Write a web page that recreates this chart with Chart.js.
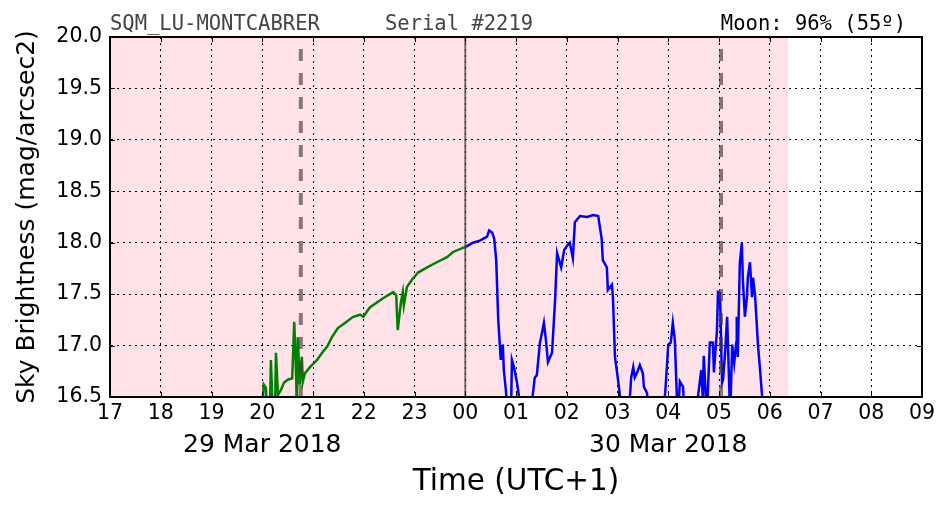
<!DOCTYPE html>
<html>
<head>
<meta charset="utf-8">
<title>SQM_LU-MONTCABRER</title>
<script src="https://cdn.jsdelivr.net/npm/chart.js@4.4.0/dist/chart.umd.min.js"></script>
<style>
    body { margin: 0; background: #fff; }
    #grafico { display: block; }
</style>
</head>
<body>
<canvas id="grafico" width="952" height="512"></canvas>
<script>
// Time in hours since 00:00 of 29 Mar 2018 (24 = midnight, 30 = 06:00 on 30 Mar)
const greenTimes = [19.99, 20.03, 20.07, 20.11, 20.15, 20.17, 20.21, 20.25, 20.27, 20.31, 20.37, 20.43,
    20.51, 20.59, 20.63, 20.67, 20.68, 20.70, 20.74, 20.78, 20.80, 20.84, 20.94, 21.08, 21.18, 21.28,
    21.37, 21.49, 21.63, 21.79, 21.93, 21.99, 22.12, 22.38, 22.58, 22.64, 22.67, 22.73, 22.77, 22.79,
    22.85, 22.95, 23.07, 23.25, 23.44, 23.64, 23.76, 24.00];
const greenValues = [16.3, 16.62, 16.59, 16.3, 16.3, 16.86, 16.3, 16.3, 16.93, 16.52, 16.57, 16.64,
    16.67, 16.68, 17.23, 16.67, 16.3, 17.08, 16.62, 16.89, 16.65, 16.73, 16.79, 16.86, 16.93, 16.99,
    17.08, 17.17, 17.22, 17.28, 17.30, 17.28, 17.37, 17.46, 17.52, 17.49, 17.15, 17.41, 17.52, 17.39,
    17.57, 17.64, 17.71, 17.76, 17.81, 17.86, 17.91, 17.96];

const blueTimes = [24.01, 24.15, 24.29, 24.43, 24.47, 24.53, 24.57, 24.61, 24.65, 24.70, 24.72, 24.74,
    24.76, 24.80, 24.84, 24.90, 24.92, 24.96, 25.02, 25.06, 25.10, 25.28, 25.33, 25.37, 25.41, 25.47,
    25.55, 25.59, 25.63, 25.71, 25.77, 25.81, 25.89, 25.95, 26.02, 26.06, 26.12, 26.16, 26.26, 26.40,
    26.52, 26.62, 26.69, 26.71, 26.79, 26.81, 26.89, 26.91, 26.95, 27.01, 27.05, 27.09, 27.21, 27.25,
    27.27, 27.31, 27.34, 27.38, 27.44, 27.50, 27.52, 27.58, 27.64, 27.88, 27.94, 28.00, 28.05, 28.09,
    28.13, 28.17, 28.19, 28.23, 28.29, 28.33, 28.57, 28.59, 28.65, 28.68, 28.70, 28.76, 28.82, 28.88,
    28.90, 28.96, 28.98, 29.02, 29.06, 29.08, 29.12, 29.16, 29.22, 29.26, 29.30, 29.34, 29.35, 29.37,
    29.41, 29.45, 29.47, 29.51, 29.55, 29.57, 29.61, 29.65, 29.67, 29.71, 29.77, 29.81, 29.85, 29.87];
const blueValues = [17.96, 18.00, 18.02, 18.06, 18.12, 18.10, 18.04, 17.83, 17.25, 16.86, 16.94, 17.01,
    16.76, 16.57, 16.3, 16.3, 16.86, 16.79, 16.64, 16.5, 16.3, 16.3, 16.52, 16.69, 16.71, 17.02,
    17.22, 17.05, 16.84, 16.93, 17.44, 17.90, 17.76, 17.93, 17.98, 18.00, 17.85, 18.20, 18.26, 18.25,
    18.27, 18.26, 18.03, 17.83, 17.76, 17.54, 17.59, 17.47, 16.89, 16.67, 16.5, 16.3, 16.3, 16.54,
    16.69, 16.79, 16.69, 16.73, 16.81, 16.73, 16.60, 16.54, 16.3, 16.3, 16.54, 17.01, 17.03, 17.22,
    17.05, 16.5, 16.3, 16.65, 16.60, 16.3, 16.3, 16.52, 16.76, 16.5, 16.90, 16.3, 17.03, 17.03,
    16.74, 17.15, 17.52, 17.51, 16.64, 16.67, 16.93, 17.28, 16.3, 17.01, 16.83, 17.03, 17.28, 16.89,
    17.80, 18.00, 17.64, 17.28, 17.47, 17.67, 17.81, 17.47, 17.66, 17.49, 16.99, 16.76, 16.5, 16.3];

// Axis limits and ticks
const xMin = 17, xMax = 33;
const yMin = 16.5, yMax = 20.0;
const yStep = 0.5;

// Shaded night period, sun set/rise markers, midnight
const nightStart = 17, nightEnd = 30.34;
const sunMarks = [20.76, 29.04];
const midnight = 24;

// Date labels under the hour ticks
const dateTicks = [20, 28];
const dateLabels = ['29 Mar 2018', '30 Mar 2018'];

const headerLeft = 'SQM_LU-MONTCABRER';
const headerMid = 'Serial #2219';
const headerRight = 'Moon: 96% (55º)';

function paresXY(xs, ys) {
    return xs.map(function(x, i) { return { x: x, y: ys[i] }; });
}

function linhaVertical(x) {
    return [{ x: x, y: yMin }, { x: x, y: yMax }];
}

// Fundo rosa da noite, atrás da grade
const pluginNoite = {
    id: 'noite',
    beforeDraw: function(chart) {
        const c = chart.ctx, a = chart.chartArea, sx = chart.scales.x;
        const x1 = sx.getPixelForValue(nightStart), x2 = sx.getPixelForValue(nightEnd);
        c.save();
        c.fillStyle = 'rgba(255, 192, 203, 0.45)';
        c.fillRect(x1, a.top, x2 - x1, a.bottom - a.top);
        c.strokeStyle = 'rgba(255, 170, 180, 0.6)';
        c.lineWidth = 1;
        c.beginPath();
        c.moveTo(x2, a.top);
        c.lineTo(x2, a.bottom);
        c.stroke();
        c.restore();
    }
};

// Moldura, marcas internas, cabeçalho e datas
const pluginTextos = {
    id: 'textos',
    afterDraw: function(chart) {
        const c = chart.ctx, a = chart.chartArea, sx = chart.scales.x, sy = chart.scales.y;
        c.save();
        c.strokeStyle = '#000';
        c.lineWidth = 1;
        c.beginPath();
        sx.ticks.forEach(function(t) {
            const px = Math.round(sx.getPixelForValue(t.value)) + 0.5;
            c.moveTo(px, a.bottom); c.lineTo(px, a.bottom - 5);
            c.moveTo(px, a.top); c.lineTo(px, a.top + 5);
        });
        sy.ticks.forEach(function(t) {
            const py = Math.round(sy.getPixelForValue(t.value)) + 0.5;
            c.moveTo(a.left, py); c.lineTo(a.left + 5, py);
            c.moveTo(a.right, py); c.lineTo(a.right - 5, py);
        });
        c.stroke();

        c.lineWidth = 2;
        c.strokeRect(a.left, a.top, a.right - a.left, a.bottom - a.top);

        c.font = '20.5px "DejaVu Sans Mono", monospace';
        c.textBaseline = 'alphabetic';
        c.fillStyle = '#444';
        c.textAlign = 'left';
        c.fillText(headerLeft, a.left, 30);
        c.fillText(headerMid, 385, 30);
        c.fillStyle = '#000';
        c.textAlign = 'right';
        c.fillText(headerRight, 906, 30);

        c.font = '25px "DejaVu Sans", sans-serif';
        c.textAlign = 'center';
        c.textBaseline = 'middle';
        dateTicks.forEach(function(t, i) {
            c.fillText(dateLabels[i], sx.getPixelForValue(t), 445);
        });
        c.restore();
    }
};

document.addEventListener('DOMContentLoaded', function() {
    const ctx = document.getElementById('grafico').getContext('2d');
    const linhasSol = sunMarks.map(function(t) {
        return {
            data: linhaVertical(t),
            borderColor: 'rgba(70, 60, 60, 0.65)',
            borderWidth: 4,
            borderDash: [12, 12],
            pointRadius: 0,
            order: 0
        };
    });

    new Chart(ctx, {
        type: 'line',
        data: {
            datasets: linhasSol.concat([
                {
                    data: linhaVertical(midnight),
                    borderColor: 'rgba(60, 60, 60, 0.7)',
                    borderWidth: 2,
                    pointRadius: 0,
                    order: 0
                },
                {
                    data: paresXY(greenTimes, greenValues),
                    borderColor: '#008000',
                    borderWidth: 2.5,
                    pointRadius: 0,
                    tension: 0,
                    order: 1
                },
                {
                    data: paresXY(blueTimes, blueValues),
                    borderColor: '#0000ff',
                    borderWidth: 2.5,
                    pointRadius: 0,
                    tension: 0,
                    order: 1
                }
            ])
        },
        options: {
            responsive: false,
            animation: false,
            devicePixelRatio: 1,
            layout: { padding: { left: 0, right: 30, top: 37, bottom: 0 } },
            plugins: {
                legend: { display: false },
                tooltip: { enabled: false }
            },
            scales: {
                x: {
                    type: 'linear',
                    min: xMin,
                    max: xMax,
                    afterFit: function(scale) { scale.height = 115; },
                    ticks: {
                        stepSize: 1,
                        padding: 4,
                        color: '#000',
                        maxRotation: 0,
                        autoSkip: false,
                        font: { family: '"DejaVu Sans", sans-serif', size: 20.5 },
                        callback: function(v) {
                            const h = Math.round(v) % 24;
                            return (h < 10 ? '0' : '') + h;
                        }
                    },
                    grid: { color: '#000', lineWidth: 1, drawTicks: false },
                    border: { color: '#000', width: 2, dash: [2, 4] },
                    title: {
                        display: true,
                        text: 'Time (UTC+1)',
                        color: '#000',
                        font: { family: '"DejaVu Sans", sans-serif', size: 29.5 },
                        padding: { top: 0, bottom: 12 }
                    }
                },
                y: {
                    min: yMin,
                    max: yMax,
                    afterFit: function(scale) { scale.width = 110; },
                    ticks: {
                        stepSize: yStep,
                        padding: 8,
                        color: '#000',
                        font: { family: '"DejaVu Sans", sans-serif', size: 20.5 },
                        callback: function(v) { return v.toFixed(1); }
                    },
                    grid: { color: '#000', lineWidth: 1, drawTicks: false },
                    border: { color: '#000', width: 2, dash: [2, 4] },
                    title: {
                        display: true,
                        text: 'Sky Brightness (mag/arcsec2)',
                        color: '#000',
                        font: { family: '"DejaVu Sans", sans-serif', size: 25 },
                        padding: { top: 12, bottom: 0 }
                    }
                }
            }
        },
        plugins: [pluginNoite, pluginTextos]
    });
});
</script>
</body>
</html>
